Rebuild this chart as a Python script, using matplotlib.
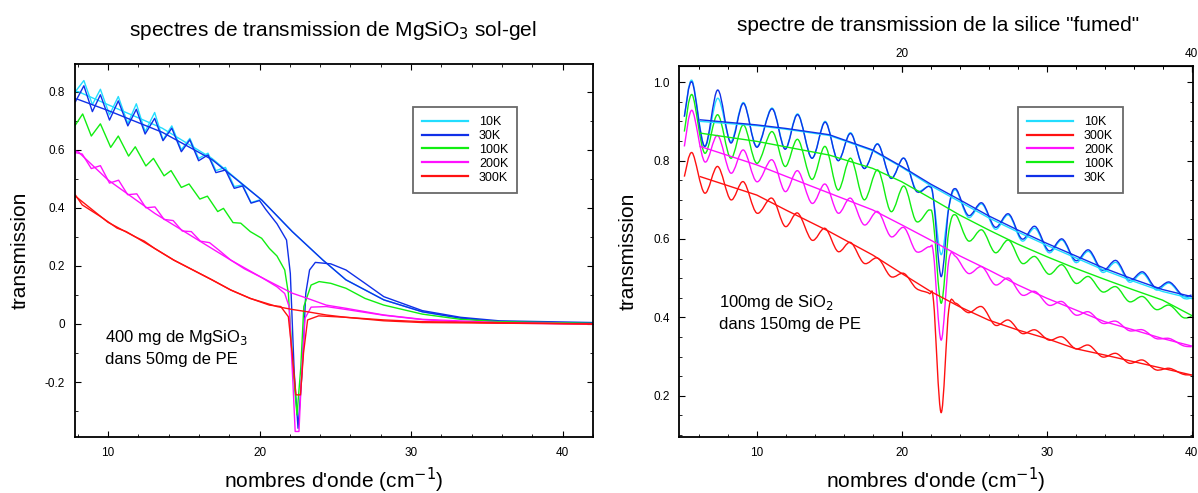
import matplotlib
matplotlib.use("Agg")
import matplotlib.pyplot as plt
from matplotlib.path import Path
from matplotlib.patches import PathPatch
from matplotlib.ticker import MultipleLocator

plt.rcParams['font.family'] = ['Liberation Sans', 'DejaVu Sans']

# ---------------- left panel: MgSiO3 sol-gel ----------------
# cyan / blue measured curves (peaks and troughs read off the picture)
L_x_osc = [7.85, 8.41, 8.97, 9.5, 10.1, 10.68, 11.31, 11.87, 12.45, 13.08, 13.63,
           14.21, 14.84, 15.4, 15.98, 16.6, 17.12, 17.75, 18.33, 18.88, 19.44, 20.0]
L_10K_meas = [0.80, 0.838, 0.755, 0.808, 0.72, 0.783, 0.69, 0.758, 0.662, 0.728, 0.634,
              0.682, 0.60, 0.639, 0.57, 0.588, 0.528, 0.539, 0.473, 0.479, 0.418, 0.427]
L_30K_meas = [0.765, 0.82, 0.731, 0.789, 0.702, 0.768, 0.682, 0.739, 0.654, 0.708, 0.631,
              0.674, 0.593, 0.634, 0.562, 0.582, 0.521, 0.53, 0.467, 0.475, 0.416, 0.425]

# 30K after the oscillating part (through the absorption dip)
L_x_tail = [20.4, 21.15, 21.78, 22.03, 22.29, 22.54, 22.8, 23.05, 23.3, 23.68,
            24.7, 25.7, 26.96, 28.2, 30.74, 33.27, 35.8, 42.0]
L_30K_tail = [0.395, 0.345, 0.289, 0.174, -0.17, -0.359, -0.17, 0.106, 0.186, 0.212,
              0.207, 0.186, 0.14, 0.094, 0.046, 0.023, 0.011, 0.005]

# smooth (model) curves
L_x_fit = [7.85, 8.03, 10.0, 13.58, 16.86, 20.14, 22.16, 24.18, 25.7, 28.2, 30.74,
           33.27, 35.8, 42.0]
L_10K_fit = [0.80, 0.80, 0.755, 0.674, 0.57, 0.427, 0.318, 0.22, 0.152, 0.083, 0.042,
             0.02, 0.008, 0.002]
L_30K_fit = [0.775, 0.773, 0.735, 0.66, 0.566, 0.427, 0.318, 0.22, 0.152, 0.083, 0.042,
             0.02, 0.008, 0.002]

L_x_100K = [7.85, 8.33, 8.9, 9.5, 10.18, 10.68, 11.36, 11.8, 12.5, 13.0, 13.7, 14.16,
            14.84, 15.35, 16.06, 16.56, 17.24, 17.62, 18.25, 18.76, 19.39, 20.14, 20.65,
            21.15, 21.66, 21.9, 22.2, 22.47, 22.72, 22.92, 23.4, 23.93, 24.7, 25.7, 26.96,
            28.2, 30.74, 33.27, 35.8, 42.0]
L_100K = [0.685, 0.723, 0.647, 0.689, 0.608, 0.647, 0.578, 0.61, 0.544, 0.57, 0.51, 0.528,
          0.47, 0.482, 0.43, 0.44, 0.387, 0.398, 0.349, 0.347, 0.318, 0.295, 0.26,
          0.234, 0.186, 0.106, -0.15, -0.313, -0.15, 0.06, 0.134, 0.146, 0.14, 0.123, 0.088,
          0.065, 0.034, 0.016, 0.008, 0.002]

L_x_200K = [7.85, 8.3, 8.9, 9.5, 10.1, 10.7, 11.3, 11.9, 12.5, 13.1, 13.7, 14.3, 14.9,
            15.5, 16.1, 16.7, 17.3, 18.1, 19.0, 20.14, 21.15, 21.66, 21.95, 22.2, 22.35,
            22.6, 22.75, 23.0, 23.4, 24.4, 25.7, 28.2, 30.74, 33.27, 35.8, 42.0]
L_200K_meas = [0.59, 0.585, 0.535, 0.545, 0.485, 0.495, 0.445, 0.448, 0.40, 0.403, 0.36,
               0.356, 0.32, 0.318, 0.285, 0.28, 0.255, 0.22, 0.19, 0.16, 0.128, 0.105, 0.06,
               -0.2, -0.37, -0.37, -0.2, 0.02, 0.058, 0.06, 0.05, 0.03, 0.015, 0.007, 0.003,
               0.0]
L_x_200K_fit = [7.85, 8.03, 10.0, 13.08, 15.6, 18.1, 20.14, 22.16, 23.17, 24.4, 25.7,
                28.2, 30.74, 35.8, 42.0]
L_200K_fit = [0.595, 0.593, 0.496, 0.381, 0.30, 0.22, 0.16, 0.106, 0.088, 0.065, 0.054,
              0.031, 0.016, 0.005, 0.0]

L_x_300K = [7.85, 8.3, 8.9, 9.5, 10.0, 10.6, 11.2, 11.8, 12.4, 13.08, 14.34, 15.6, 16.86,
            18.1, 19.39, 20.65, 21.4, 21.9, 22.15, 22.4, 22.7, 22.9, 23.17, 23.9, 25.7,
            28.2, 30.74, 42.0]
L_300K_meas = [0.444, 0.41, 0.39, 0.37, 0.352, 0.33, 0.318, 0.30, 0.285, 0.26, 0.22, 0.186,
               0.152, 0.117, 0.088, 0.065, 0.06, 0.025, -0.1, -0.244, -0.244, -0.1, 0.014,
               0.028, 0.023, 0.011, 0.005, 0.0]
L_x_300K_fit = [7.85, 10.0, 11.8, 13.08, 14.34, 15.6, 16.86, 18.1, 19.39, 20.65, 21.15,
                22.16, 23.17, 24.4, 25.7, 28.2, 30.74, 42.0]
L_300K_fit = [0.44, 0.35, 0.30, 0.26, 0.22, 0.186, 0.152, 0.117, 0.088, 0.068, 0.06,
              0.05, 0.042, 0.031, 0.023, 0.014, 0.008, 0.0]

# ---------------- right panel: fumed silica ----------------
R_x = [5.0, 5.54, 6.4, 7.3, 8.2, 9.08, 10.0, 11.05, 11.95, 12.83, 13.8, 14.72, 15.6,
       16.48, 17.4, 18.35, 19.25, 20.16, 21.0, 21.9, 22.2, 22.72, 23.25, 23.73, 24.6,
       25.54, 26.45, 27.38, 28.3, 29.21, 30.15, 31.08, 32.0, 32.91, 33.85, 34.8, 35.7,
       36.64, 37.55, 38.48, 39.4, 40.0]
R_10K = [0.912, 1.004, 0.836, 0.959, 0.849, 0.948, 0.836, 0.934, 0.831, 0.919, 0.806,
         0.90, 0.80, 0.871, 0.78, 0.843, 0.755, 0.806, 0.725, 0.734, 0.70, 0.56, 0.68,
         0.725, 0.655, 0.689, 0.625, 0.661, 0.595, 0.627, 0.565, 0.597, 0.54, 0.568,
         0.515, 0.54, 0.49, 0.512, 0.47, 0.487, 0.45, 0.449]
R_30K = [0.912, 1.0, 0.836, 0.98, 0.845, 0.946, 0.834, 0.932, 0.829, 0.917, 0.806,
         0.898, 0.80, 0.869, 0.78, 0.842, 0.755, 0.806, 0.722, 0.734, 0.70, 0.504, 0.68,
         0.728, 0.66, 0.692, 0.63, 0.664, 0.60, 0.632, 0.57, 0.60, 0.545, 0.572, 0.52,
         0.545, 0.495, 0.516, 0.475, 0.49, 0.455, 0.457]
R_100K = [0.874, 0.968, 0.819, 0.917, 0.806, 0.891, 0.793, 0.874, 0.785, 0.854, 0.752,
          0.836, 0.725, 0.806, 0.70, 0.776, 0.67, 0.735, 0.645, 0.674, 0.64, 0.436, 0.62,
          0.661, 0.595, 0.623, 0.565, 0.597, 0.538, 0.555, 0.51, 0.534, 0.487, 0.504,
          0.465, 0.478, 0.44, 0.453, 0.42, 0.431, 0.40, 0.402]
R_200K = [0.836, 0.928, 0.797, 0.864, 0.768, 0.827, 0.746, 0.802, 0.721, 0.774, 0.691,
          0.74, 0.666, 0.704, 0.636, 0.67, 0.606, 0.629, 0.568, 0.58, 0.56, 0.342, 0.545,
          0.555, 0.512, 0.529, 0.483, 0.50, 0.457, 0.466, 0.431, 0.44, 0.406, 0.414,
          0.385, 0.39, 0.366, 0.368, 0.346, 0.346, 0.328, 0.325]
R_300K = [0.759, 0.82, 0.717, 0.785, 0.70, 0.746, 0.666, 0.704, 0.632, 0.666, 0.597,
          0.627, 0.568, 0.591, 0.538, 0.551, 0.504, 0.512, 0.474, 0.461, 0.44, 0.157, 0.42,
          0.436, 0.412, 0.427, 0.38, 0.393, 0.359, 0.368, 0.342, 0.35, 0.32, 0.329, 0.299,
          0.308, 0.283, 0.291, 0.266, 0.27, 0.255, 0.253]

R_x_fit = [6.1, 10.0, 12.0, 15.0, 18.0, 20.0, 22.0, 24.0, 26.0, 28.0, 30.0, 32.0, 34.0,
           36.0, 38.0, 40.0]
R_10K_fit = [0.90, 0.889, 0.88, 0.864, 0.825, 0.783, 0.736, 0.695, 0.654, 0.618, 0.584,
             0.552, 0.52, 0.492, 0.466, 0.448]
R_30K_fit = [0.904, 0.891, 0.882, 0.866, 0.827, 0.785, 0.74, 0.70, 0.659, 0.623, 0.589,
             0.557, 0.525, 0.497, 0.471, 0.453]
R_100K_fit = [0.87, 0.849, 0.835, 0.814, 0.78, 0.746, 0.704, 0.661, 0.623, 0.587, 0.555,
              0.525, 0.497, 0.47, 0.444, 0.405]
R_200K_fit = [0.836, 0.789, 0.76, 0.717, 0.674, 0.636, 0.597, 0.557, 0.521, 0.483, 0.449,
              0.419, 0.389, 0.368, 0.346, 0.327]
R_300K_fit = [0.759, 0.712, 0.674, 0.619, 0.559, 0.512, 0.466, 0.427, 0.393, 0.368, 0.346,
              0.32, 0.304, 0.287, 0.27, 0.253]

c10, c30, c100, c200, c300 = '#22ddff', '#1030e8', '#11ee11', '#ff11ff', '#ff1111'
lw = 1.0


def smooth_line(ax, xs, ys, color):
    # draw the measured points joined by a smooth (Catmull-Rom style) bezier curve
    pts = list(zip(xs, ys))
    verts = [pts[0]]
    codes = [Path.MOVETO]
    for i in range(len(pts) - 1):
        p0 = pts[i - 1] if i > 0 else pts[i]
        p1, p2 = pts[i], pts[i + 1]
        p3 = pts[i + 2] if i + 2 < len(pts) else pts[i + 1]
        c1 = (p1[0] + (p2[0] - p0[0]) / 6, p1[1] + (p2[1] - p0[1]) / 6)
        c2 = (p2[0] - (p3[0] - p1[0]) / 6, p2[1] - (p3[1] - p1[1]) / 6)
        verts += [c1, c2, p2]
        codes += [Path.CURVE4] * 3
    ax.add_patch(PathPatch(Path(verts, codes), fill=False, edgecolor=color, lw=lw))


fig = plt.figure(figsize=(11.98, 4.93), dpi=100)
axL = fig.add_axes([0.0623, 0.1136, 0.4327, 0.7566])
axR = fig.add_axes([0.567, 0.113, 0.4288, 0.7537])

# left
axL.plot(L_x_fit, L_10K_fit, color=c10, lw=lw)
axL.plot(L_x_osc, L_10K_meas, color=c10, lw=lw, label='10K')
axL.plot(L_x_fit, L_30K_fit, color=c30, lw=lw)
axL.plot(L_x_osc + L_x_tail, L_30K_meas + L_30K_tail, color=c30, lw=lw, label='30K')
axL.plot(L_x_100K, L_100K, color=c100, lw=lw, label='100K')
axL.plot(L_x_200K_fit, L_200K_fit, color=c200, lw=lw)
axL.plot(L_x_200K, L_200K_meas, color=c200, lw=lw, label='200K')
axL.plot(L_x_300K_fit, L_300K_fit, color=c300, lw=lw)
axL.plot(L_x_300K, L_300K_meas, color=c300, lw=lw, label='300K')
axL.set_xlim(7.8, 42.0)
axL.set_ylim(-0.389, 0.895)
axL.set_yticks([-0.2, 0, 0.2, 0.4, 0.6, 0.8])
axL.set_yticklabels(['-0.2', '0', '0.2', '0.4', '0.6', '0.8'])
axL.yaxis.set_minor_locator(MultipleLocator(0.1))
axL.text(9.82, -0.081, '400 mg de MgSiO$_3$\ndans 50mg de PE', fontsize=12,
         va='center', linespacing=1.45)

# right
for ys, ysf, col, lab in [(R_10K, R_10K_fit, c10, '10K'), (R_300K, R_300K_fit, c300, '300K'),
                          (R_200K, R_200K_fit, c200, '200K'), (R_100K, R_100K_fit, c100, '100K'),
                          (R_30K, R_30K_fit, c30, '30K')]:
    smooth_line(axR, R_x, ys, col)
    axR.plot(R_x_fit, ysf, color=col, lw=lw, label=lab)
axR.set_xlim(4.65, 40.1)
axR.set_ylim(0.094, 1.042)
axR.set_yticks([0.2, 0.4, 0.6, 0.8, 1.0])
axR.set_yticklabels(['0.2', '0.4', '0.6', '0.8', '1.0'])
axR.yaxis.set_minor_locator(MultipleLocator(0.05))
axR.text(7.4, 0.412, '100mg de SiO$_2$\ndans 150mg de PE', fontsize=12,
         va='center', linespacing=1.45)
top = axR.secondary_xaxis('top')
top.set_xticks([20, 40])
top.xaxis.set_minor_locator(MultipleLocator(2))
top.tick_params(which='both', direction='in', labelsize=8.5, pad=4)
top.tick_params(which='major', length=4)
top.tick_params(which='minor', length=2)

fig.text(0.278, 0.939, 'spectres de transmission de MgSiO$_3$ sol-gel', fontsize=15,
         ha='center', va='center')
fig.text(0.783, 0.949, 'spectre de transmission de la silice "fumed"', fontsize=15,
         ha='center', va='center')

for ax, anchor in ((axL, (0.652, 0.8855)), (axR, (0.659, 0.8897))):
    leg = ax.legend(loc='upper left', bbox_to_anchor=anchor, borderaxespad=0, fontsize=9,
                    frameon=True, fancybox=False, handlelength=3.7, labelspacing=0.15,
                    borderpad=0.75, handletextpad=0.85)
    leg.get_frame().set_edgecolor('#444444')
    leg.get_frame().set_linewidth(1.3)
    for h in leg.get_lines():
        h.set_linewidth(1.6)
    ax.set_xticks([10, 20, 30, 40])
    ax.xaxis.set_minor_locator(MultipleLocator(2))
    ax.tick_params(which='both', direction='in', top=True, right=True, labelsize=8.5, pad=7)
    ax.tick_params(which='major', length=4)
    ax.tick_params(which='minor', length=2)
    ax.set_xlabel("nombres d'onde (cm$^{-1}$)", fontsize=15, labelpad=5)
    ax.set_ylabel('transmission', fontsize=15, labelpad=11)
    for s in ax.spines.values():
        s.set_linewidth(1.3)

fig.savefig('out.png', dpi=100)
